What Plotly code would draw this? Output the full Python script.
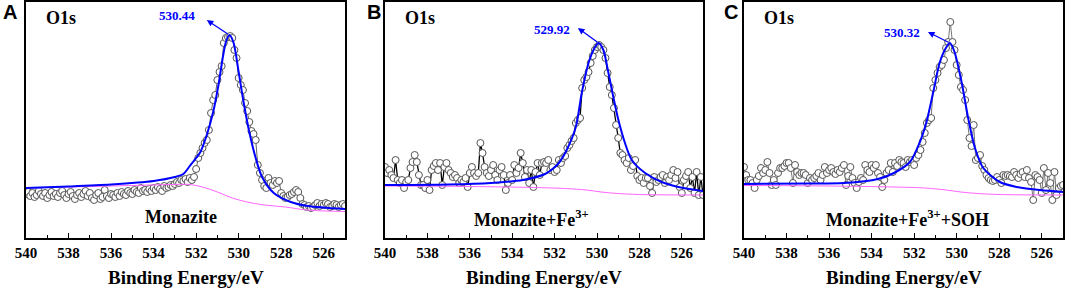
import plotly.graph_objects as go

# ---------------- data (intensity in arbitrary units) ----------------
E_START = 540.0
E_STEP = 0.1

# Panel A: Monazite, measured O1s spectrum, 540.0 -> 525.0 eV in 0.1 eV steps
a_counts = [
    44, 46, 42, 45, 41, 43, 47, 44, 42, 45,
    40, 43, 46, 42, 44, 41, 45, 47, 43, 40,
    44, 46, 42, 39, 43, 45, 41, 44, 47, 42,
    45, 40, 38, 43, 45, 39, 41, 48, 42, 40,
    44, 43, 41, 45, 42, 46, 44, 43, 47, 45,
    44, 48, 46, 45, 50, 47, 48, 46, 49, 47,
    50, 48, 51, 49, 47, 52, 50, 51, 53, 52,
    54, 56, 55, 58, 57, 59, 56, 60, 58, 61,
    69, 80, 85, 90, 95, 98, 108, 125, 138, 143,
    158, 166, 172, 195, 200, 201, 202, 200, 188, 180,
    160, 153, 148, 135, 127, 116, 107, 104, 98, 73,
    65, 58, 52, 50, 60, 55, 53, 57, 55, 57,
    45, 42, 40, 41, 43, 44, 46, 48, 46, 40,
    34, 33, 31, 32, 30, 31, 33, 35, 32, 34,
    33, 35, 34, 31, 32, 34, 33, 31, 33, 34,
    32,
]
a_fit_e = [540, 538, 536, 534, 533, 532.6, 532.3, 532.0, 531.8, 531.5, 531.2, 530.95,
           530.75, 530.6, 530.44, 530.25, 530.0, 529.77, 529.5, 529.2, 528.9, 528.35,
           527.55, 526.75, 525.0]
a_fit_i = [50, 51.5, 53.5, 57, 61, 64, 72, 80, 86, 103, 126, 153,
           180, 196, 203, 196, 166, 136, 106, 80, 61, 45,
           36, 32, 29]
a_bg_e = [540, 536, 533, 532.3, 531.7, 531, 530.3, 529.6, 528.8, 527.8, 526.8, 525]
a_bg_i = [50, 52, 53.5, 53.5, 51, 46, 40, 36, 33, 31, 28, 26.5]

# Panel B: Monazite + Fe3+
b_counts = [
    71, 65, 68, 63, 60, 78, 58, 55, 58, 50,
    56, 58, 70, 76, 83, 76, 63, 53, 53, 50,
    58, 48, 68, 72, 75, 68, 75, 53, 71, 75,
    68, 65, 61, 63, 60, 55, 58, 56, 60, 51,
    65, 71, 65, 62, 65, 95, 85, 71, 65, 62,
    68, 73, 63, 58, 68, 71, 63, 48, 55, 63,
    58, 73, 65, 70, 85, 75, 61, 68, 55, 68,
    51, 66, 75, 63, 75, 76, 75, 78, 68, 71,
    66, 68, 78, 75, 80, 82, 90, 93, 97, 100,
    115, 118, 120, 150, 158, 161, 166, 175, 182, 188,
    191, 193, 191, 188, 180, 165, 151, 143, 130, 113,
    100, 85, 83, 78, 75, 80, 68, 72, 78, 62,
    58, 60, 55, 60, 60, 52, 45, 61, 56, 58,
    61, 63, 55, 61, 58, 63, 68, 60, 66, 51,
    45, 58, 62, 66, 50, 61, 45, 66, 43, 61,
    43,
]
b_fit_e = [540, 537, 535, 533.5, 532.45, 532.1, 531.8, 531.43, 531.0, 530.72, 530.4,
           530.09, 529.92, 529.7, 529.46, 529.23, 528.99, 528.68, 528.36, 527.73,
           526.95, 526.16, 525.0]
b_fit_i = [53, 53.5, 55, 58, 64, 69, 75, 88, 111, 145, 175,
           191, 195, 188, 165, 141, 118, 95, 78, 65,
           56, 51, 47]
b_bg_e = [540, 536, 533, 531.5, 530.5, 529.8, 529, 528, 525]
b_bg_i = [52, 51.5, 50.5, 49.5, 48, 46, 44.5, 43.5, 43]

# Panel C: Monazite + Fe3+ + SOH
c_counts = [
    71, 63, 58, 58, 55, 50, 58, 62, 70, 65,
    68, 76, 65, 53, 58, 53, 65, 70, 70, 72,
    75, 75, 70, 55, 73, 66, 63, 65, 65, 63,
    55, 60, 58, 60, 62, 65, 58, 63, 71, 65,
    68, 70, 66, 64, 68, 66, 70, 73, 53, 62,
    71, 60, 55, 50, 56, 60, 58, 73, 68, 66,
    73, 70, 73, 65, 61, 51, 58, 65, 68, 75,
    66, 75, 72, 78, 76, 75, 71, 78, 76, 78,
    73, 80, 83, 88, 96, 105, 115, 118, 120, 150,
    158, 165, 171, 173, 178, 190, 196, 216, 196, 188,
    173, 163, 151, 148, 138, 118, 100, 92, 113, 78,
    80, 83, 72, 68, 63, 60, 58, 57, 58, 61,
    58, 55, 63, 62, 63, 62, 61, 66, 63, 60,
    64, 66, 61, 68, 60, 56, 38, 63, 61, 58,
    45, 70, 48, 65, 55, 38, 66, 43, 50, 52,
    53,
]
c_fit_e = [540, 537, 535.3, 533.7, 532.95, 532.2, 531.73, 531.42, 531.1, 530.79,
           530.48, 530.32, 530.1, 529.77, 529.46, 529.14, 528.75, 527.97, 527.18,
           526.1, 525.0]
c_fit_i = [54, 54.5, 55, 59, 65, 76, 96, 116, 146, 176,
           191, 195, 186, 156, 120, 90, 70, 56, 51,
           48, 46]
c_bg_e = [540, 536, 533, 531.5, 530.5, 529.8, 529, 528, 525]
c_bg_i = [52.5, 52, 51, 50, 48, 46, 44.5, 43.5, 43]

peak_labels = ["530.44", "529.92", "530.32"]
peak_pos = [530.44, 529.92, 530.32]
sample_labels = ["Monazite", "Monazite+Fe<sup>3+</sup>", "Monazite+Fe<sup>3+</sup>+SOH"]
panel_letters = ["A", "B", "C"]
tick_vals = [540, 538, 536, 534, 532, 530, 528, 526]


def energies(n):
    return [round(E_START - E_STEP * i, 1) for i in range(n)]


SERIF = "Times New Roman, Liberation Serif, serif"
SANS = "Arial, Liberation Sans, sans-serif"
W, H = 1065, 289

panels = [
    dict(counts=a_counts, fe=a_fit_e, fi=a_fit_i, be=a_bg_e, bi=a_bg_i,
         x0=26, x1=345, dcol="#666666", dw=1.0),
    dict(counts=b_counts, fe=b_fit_e, fi=b_fit_i, be=b_bg_e, bi=b_bg_i,
         x0=385, x1=703, dcol="#000000", dw=1.3),
    dict(counts=c_counts, fe=c_fit_e, fi=c_fit_i, be=c_bg_e, bi=c_bg_i,
         x0=744, x1=1063, dcol="#777777", dw=1.0),
]

PLOT_TOP, PLOT_BOT = 2, 238
ydom = [(H - PLOT_BOT) / H, (H - PLOT_TOP) / H]

fig = go.Figure()
layout = dict(width=W, height=H, margin=dict(l=0, r=0, t=0, b=0, autoexpand=False),
              paper_bgcolor="white", plot_bgcolor="white", showlegend=False)

annotations = []

o1s_pos = [(539.15, 220), (539.15, 220), (539.15, 220)]
peak_txt_pos = [(532.88, 222), (532.12, 209), (532.57, 206)]
arrow_head = [(531.5, 218), (530.9, 210), (531.35, 206)]
peak_top = [203, 195, 195]
sample_pos = [(532.7, 21), (533.07, 20), (532.29, 20)]
letter_px = [10, 374, 731]

for k, p in enumerate(panels):
    sfx = "" if k == 0 else str(k + 1)
    xa, ya = "x" + sfx, "y" + sfx
    xs = energies(len(p["counts"]))
    fig.add_trace(go.Scatter(
        x=xs, y=p["counts"], mode="lines+markers", xaxis=xa, yaxis=ya,
        line=dict(color=p["dcol"], width=p["dw"]),
        marker=dict(symbol="circle", size=7, color="white",
                    line=dict(color="#555555", width=1)),
    ))
    fig.add_trace(go.Scatter(
        x=p["be"], y=p["bi"], mode="lines", xaxis=xa, yaxis=ya,
        line=dict(color="#ff66ff", width=1, shape="spline", smoothing=1.0),
    ))
    fig.add_trace(go.Scatter(
        x=p["fe"], y=p["fi"], mode="lines", xaxis=xa, yaxis=ya,
        line=dict(color="#0000ff", width=2, shape="spline", smoothing=0.8),
    ))

    dom = [p["x0"] / W, p["x1"] / W]
    layout["xaxis" + sfx] = dict(
        domain=dom, anchor=ya, range=[540, 525], showgrid=False, zeroline=False,
        automargin=False,
        showline=True, linecolor="black", linewidth=1.5, mirror=True,
        ticks="inside", ticklen=5, tickwidth=1, tickcolor="black",
        tickvals=tick_vals, ticktext=[str(v) for v in tick_vals],
        tickfont=dict(family=SERIF, size=15, color="black", weight="bold"),
        minor=dict(dtick=1, ticks="inside", ticklen=3, tickcolor="black", tick0=539),
    )
    layout["yaxis" + sfx] = dict(
        domain=ydom, anchor=xa, range=[0, 236], showgrid=False, zeroline=False,
        automargin=False,
        showline=True, linecolor="black", linewidth=1.5, mirror=True,
        showticklabels=False, ticks="",
    )

    annotations.append(dict(x=o1s_pos[k][0], y=o1s_pos[k][1], xref=xa, yref=ya,
                            text="O1s", showarrow=False, xanchor="left", yanchor="middle",
                            font=dict(family=SERIF, size=18, color="black", weight="bold")))
    annotations.append(dict(x=peak_txt_pos[k][0], y=peak_txt_pos[k][1], xref=xa, yref=ya,
                            text=peak_labels[k], showarrow=False,
                            xanchor="center", yanchor="middle",
                            font=dict(family=SERIF, size=13, color="#0000ff", weight="bold")))
    annotations.append(dict(x=arrow_head[k][0], y=arrow_head[k][1], xref=xa, yref=ya,
                            ax=peak_pos[k], ay=peak_top[k], axref=xa, ayref=ya,
                            text="", showarrow=True, arrowhead=2, arrowsize=1,
                            arrowwidth=1.3, arrowcolor="#0000ff"))
    annotations.append(dict(x=sample_pos[k][0], y=sample_pos[k][1], xref=xa, yref=ya,
                            text=sample_labels[k], showarrow=False,
                            xanchor="center", yanchor="middle",
                            font=dict(family=SERIF, size=18, color="black", weight="bold")))
    annotations.append(dict(x=(p["x0"] + p["x1"]) / 2 / W, y=(H - 277) / H,
                            xref="paper", yref="paper", text="Binding Energy/eV",
                            showarrow=False, xanchor="center", yanchor="middle",
                            font=dict(family=SERIF, size=19, color="black", weight="bold")))
    annotations.append(dict(x=letter_px[k] / W, y=(H - 12) / H, xref="paper", yref="paper",
                            text=panel_letters[k], showarrow=False,
                            xanchor="center", yanchor="middle",
                            font=dict(family=SANS, size=20, color="black", weight="bold")))

layout["annotations"] = annotations
fig.update_layout(**layout)
fig.write_html("out.html", config={"displayModeBar": False},
               post_script="document.body.style.margin='0px';document.body.style.padding='0px';")
